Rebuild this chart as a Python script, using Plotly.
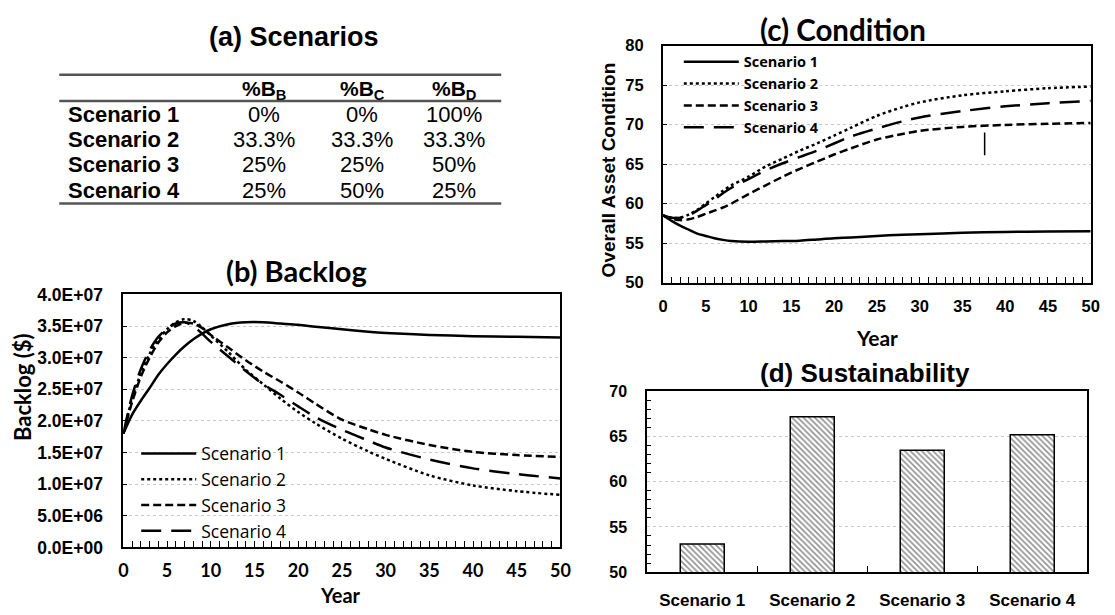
import plotly.graph_objects as go

W, H = 1115, 615

# ---------------- data ----------------
scenario_names = ["Scenario 1", "Scenario 2", "Scenario 3", "Scenario 4"]

# (a) budget split per scenario
table_headers = ["%B<sub>B</sub>", "%B<sub>C</sub>", "%B<sub>D</sub>"]
pct_b = ["0%", "33.3%", "25%", "25%"]
pct_c = ["0%", "33.3%", "25%", "50%"]
pct_d = ["100%", "33.3%", "50%", "25%"]

# (b) backlog ($ million) over the planning horizon
years = [0, 1, 2, 3, 4, 5, 6, 7, 8, 9, 10, 12, 14, 16, 18, 20, 22, 25, 28, 30, 35, 40, 45, 50]
backlog_s1 = [18.0, 21.0, 23.2, 25.2, 27.3, 29.0, 30.5, 31.8, 32.9, 33.8, 34.5, 35.3, 35.6, 35.6,
              35.4, 35.2, 34.9, 34.5, 34.1, 33.9, 33.6, 33.4, 33.3, 33.2]
backlog_s2 = [18.0, 23.5, 27.5, 30.6, 32.9, 34.5, 35.6, 36.1, 35.8, 34.8, 33.5, 30.9, 28.1, 25.8,
              23.5, 21.4, 19.6, 17.2, 15.2, 14.0, 11.4, 9.8, 8.9, 8.3]
backlog_s3 = [18.0, 23.0, 27.0, 30.0, 32.4, 34.0, 35.0, 35.5, 35.4, 34.7, 33.6, 31.6, 29.6, 27.8,
              26.2, 24.5, 22.7, 20.2, 18.7, 17.8, 16.2, 15.1, 14.6, 14.3]
backlog_s4 = [18.0, 24.0, 28.2, 31.2, 33.3, 34.6, 35.4, 35.6, 35.0, 33.8, 32.5, 30.2, 27.9, 25.8,
              24.1, 22.3, 20.6, 18.6, 16.9, 15.8, 13.9, 12.5, 11.6, 10.9]
backlog_ticks = [0, 5e6, 10e6, 15e6, 20e6, 25e6, 30e6, 35e6, 40e6]
backlog_ticktext = ["0.0E+00", "5.0E+06", "1.0E+07", "1.5E+07", "2.0E+07",
                    "2.5E+07", "3.0E+07", "3.5E+07", "4.0E+07"]

# (c) overall asset condition
cond_years = [0, 1, 2, 3, 4, 5, 6, 7, 8, 10, 12, 14, 16, 18, 20, 22, 25, 28, 30, 35, 40, 45, 50]
cond_s1 = [58.5, 57.8, 57.2, 56.7, 56.2, 55.9, 55.6, 55.4, 55.25, 55.15, 55.2, 55.25, 55.3, 55.45,
           55.6, 55.7, 55.9, 56.05, 56.1, 56.3, 56.4, 56.45, 56.5]
cond_s2 = [58.5, 58.2, 58.2, 58.6, 59.2, 60.0, 60.8, 61.6, 62.3, 63.4, 64.7, 65.7, 66.7, 67.6,
           68.6, 69.6, 71.1, 72.2, 72.8, 73.7, 74.2, 74.6, 74.8]
cond_s3 = [58.5, 58.1, 57.9, 58.0, 58.3, 58.7, 59.1, 59.5, 60.0, 61.2, 62.3, 63.4, 64.4, 65.3,
           66.2, 67.0, 68.1, 68.8, 69.2, 69.7, 69.95, 70.1, 70.2]
cond_s4 = [58.5, 58.2, 58.2, 58.5, 59.1, 59.8, 60.5, 61.3, 62.0, 63.1, 64.2, 65.1, 65.9, 66.7,
           67.6, 68.5, 69.5, 70.4, 70.9, 71.7, 72.3, 72.7, 73.0]
marker_year = 37.6
marker_range = [66.1, 69.0]

# (d) sustainability index
sustainability = [53.1, 67.2, 63.5, 65.2]

# ---------------- helpers ----------------
def px(x):
    return x / W

def py(y):
    return 1 - y / H

ARIAL = "Liberation Sans"
CALIBRI = "Lato"
line_styles = [
    dict(color="black", width=2.5, dash="solid"),
    dict(color="black", width=2.5, dash="dot"),
    dict(color="black", width=2.5, dash="8px,4px"),
    dict(color="black", width=2.5, dash="20px,10px"),
]

fig = go.Figure()

# (b) backlog lines
for name, vals, st in zip(scenario_names, [backlog_s1, backlog_s2, backlog_s3, backlog_s4], line_styles):
    fig.add_trace(go.Scatter(
        x=years, y=[v * 1e6 for v in vals], mode="lines", name=name,
        line=dict(shape="spline", smoothing=0.8, **st),
        xaxis="x", yaxis="y", legend="legend",
    ))

# (c) condition lines
for name, vals, st in zip(scenario_names, [cond_s1, cond_s2, cond_s3, cond_s4], line_styles):
    fig.add_trace(go.Scatter(
        x=cond_years, y=vals, mode="lines", name=name,
        line=dict(shape="spline", smoothing=0.8, **st),
        xaxis="x2", yaxis="y2", legend="legend2",
    ))

# (d) hatched bars
fig.add_trace(go.Bar(
    x=scenario_names, y=sustainability, width=0.4, showlegend=False,
    marker=dict(color="white", line=dict(color="black", width=1.5),
                pattern=dict(shape="\\", fgcolor="#222", bgcolor="white", size=4, solidity=0.4)),
    xaxis="x3", yaxis="y3",
))

frame = dict(showline=True, linecolor="black", linewidth=2, mirror=True, zeroline=False)
grid = dict(showgrid=True, gridcolor="#c8c8c8", griddash="dot", gridwidth=1)

fig.update_layout(
    width=W, height=H, margin=dict(l=0, r=0, t=0, b=0),
    paper_bgcolor="white", plot_bgcolor="white", showlegend=True,
    xaxis=dict(domain=[px(120), px(563)], range=[0, 50], dtick=5, ticks="inside", ticklen=6,
               tickcolor="black", showgrid=False, ticklabelstandoff=6,
               minor=dict(ticks="inside", dtick=1, ticklen=6, tickcolor="black"),
               tickfont=dict(family=CALIBRI, size=18, color="black", weight="bold"),
               anchor="y", **frame),
    yaxis=dict(domain=[py(555.5), py(294)], range=[0, 4e7], tickvals=backlog_ticks,
               ticktext=backlog_ticktext, ticks="inside", ticklen=4, tickcolor="black",
               ticklabelstandoff=15,
               tickfont=dict(family=ARIAL, size=17.5, color="black", weight="bold"),
               anchor="x", **grid, **frame),
    xaxis2=dict(domain=[px(667), px(1100.5)], range=[0, 50], dtick=5, ticks="inside", ticklen=6,
                tickcolor="black", showgrid=False, ticklabelstandoff=8,
                minor=dict(ticks="inside", dtick=1, ticklen=6, tickcolor="black"),
                tickfont=dict(family=ARIAL, size=16.5, color="black", weight="bold"),
                anchor="y2", **frame),
    yaxis2=dict(domain=[py(281.7), py(36.7)], range=[50, 80], dtick=5, ticks="inside", ticklen=4,
                tickcolor="black", ticklabelstandoff=14,
                tickfont=dict(family=ARIAL, size=16.5, color="black", weight="bold"),
                anchor="x2", **grid, **frame),
    xaxis3=dict(domain=[px(651), px(1097)], range=[-0.5, 3.5], type="category",
                tickson="boundaries", ticks="inside", ticklen=6, tickcolor="black", showgrid=False,
                ticklabelstandoff=11,
                tickfont=dict(family=ARIAL, size=17, color="black", weight="bold"),
                anchor="y3", **frame),
    yaxis3=dict(domain=[py(581), py(394.3)], range=[50, 70], dtick=5, ticks="", tickcolor="black",
                ticklabelstandoff=15,
                minor=dict(ticks="inside", dtick=1, ticklen=4, tickcolor="black", showgrid=False),
                tickfont=dict(family=ARIAL, size=16, color="black", weight="bold"),
                anchor="x3", **grid, **frame),
    legend=dict(x=px(133), y=py(440), xanchor="left", yanchor="top", bgcolor="rgba(0,0,0,0)",
                font=dict(family="Open Sans", size=17.5, color="black"), itemwidth=55,
                tracegroupgap=0, traceorder="normal"),
    legend2=dict(x=px(683), y=py(37), xanchor="left", yanchor="top", bgcolor="rgba(0,0,0,0)",
                 font=dict(family="Open Sans", size=14.5, color="black", weight="bold"), itemwidth=55,
                 tracegroupgap=0, traceorder="normal"),
)

# stray reference marker in (c)
fig.add_shape(type="line", xref="x2", yref="y2", x0=marker_year, x1=marker_year,
              y0=marker_range[0], y1=marker_range[1], line=dict(color="black", width=1.5))

ann = []

def text(x, y, s, size, family=ARIAL, bold=True, xanchor="center", angle=0):
    ann.append(dict(x=px(x), y=py(y), xref="paper", yref="paper", text=s, showarrow=False,
                    xanchor=xanchor, yanchor="middle", textangle=angle,
                    font=dict(family=family, size=size, color="black",
                              weight="bold" if bold else "normal")))

# panel titles
text(293, 28, "(a) Scenarios", 27)
text(295, 269, "(b) Backlog", 29, family=CALIBRI)
text(849, 20, "(c) Condition", 29.5, family=CALIBRI)
text(872, 375, "(d) Sustainability", 26)

# axis titles
text(18, 390, "Backlog ($)", 22, family=CALIBRI, angle=-90)
text(340, 605, "Year", 20, family=CALIBRI)
text(612, 165, "Overall Asset Condition", 19, angle=-90)
text(884, 338, "Year", 21, family=CALIBRI)

# (a) scenario table
col_x = [263, 362, 455]
row_y = [108, 134, 160, 187]
for cx, h in zip(col_x, table_headers):
    text(cx, 83, h, 21)
for ry, name, a, b, c in zip(row_y, scenario_names, pct_b, pct_c, pct_d):
    text(62, ry, name, 22, xanchor="left")
    for cx, v in zip(col_x, [a, b, c]):
        text(cx, ry, v, 22, bold=False)

fig.update_layout(annotations=ann)

for yline in [67, 94, 200]:
    fig.add_shape(type="line", xref="paper", yref="paper", x0=px(55), x1=px(503),
                  y0=py(yline), y1=py(yline), line=dict(color="#555", width=2.5))

fig.write_html("out.html")
